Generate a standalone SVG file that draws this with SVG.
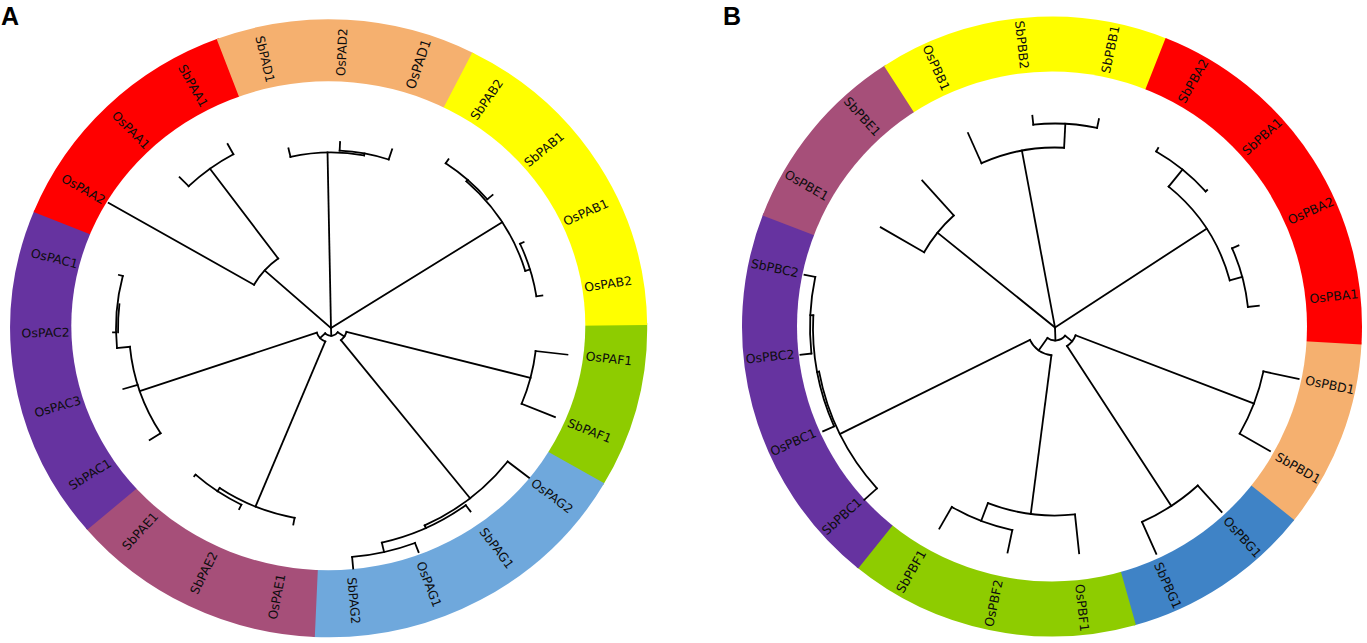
<svg xmlns="http://www.w3.org/2000/svg" width="1367" height="643" viewBox="0 0 1367 643">
<style>
.lab{font-family:"DejaVu Sans","Liberation Sans",sans-serif;font-size:12.5px;fill:#0d0d0d}
.pan{font-family:"Liberation Sans",Arial,sans-serif;font-size:25px;font-weight:bold;fill:#000}
.pie{fill:none}
.pA{stroke-width:318.5}
.pB{stroke-width:310}
.tree line,.tree circle{fill:none;stroke:#000;stroke-width:1.8;stroke-linecap:square}
</style>
<rect width="1367" height="643" fill="#fff"/>
<text class="pan" x="1" y="25">A</text>
<text class="pan" x="723" y="25">B</text>

<!-- ============ PANEL A ============ -->
<g id="panelA">
<g id="A-PAF">
 <circle class="pie pA" r="159.25" pathLength="360" stroke="#8ECC00" stroke-dasharray="31.5 360" transform="translate(328.7,328.3) scale(1,0.9702) rotate(-1)"/>
 <g transform="translate(328.5,327) scale(1,0.9702)">
  <text class="lab" dy=".35em" transform="rotate(6.63) translate(259)">OsPAF1</text>
  <text class="lab" dy=".35em" transform="rotate(22.28) translate(259)">SbPAF1</text>
 </g>
</g>
<g id="A-PAG">
 <circle class="pie pA" r="159.25" pathLength="360" stroke="#6FA8DC" stroke-dasharray="62.8 360" transform="translate(328.7,328.3) scale(1,0.9702) rotate(30.1)"/>
 <g transform="translate(328.5,327) scale(1,0.9702)">
  <text class="lab" dy=".35em" transform="rotate(37.93) translate(259)">OsPAG2</text>
  <text class="lab" dy=".35em" transform="rotate(53.58) translate(259)">SbPAG1</text>
  <text class="lab" dy=".35em" transform="rotate(69.24) translate(259)">OsPAG1</text>
  <text class="lab" dy=".35em" transform="rotate(84.89) translate(259)">SbPAG2</text>
 </g>
</g>
<g id="A-PAE">
 <circle class="pie pA" r="159.25" pathLength="360" stroke="#A64F79" stroke-dasharray="47.2 360" transform="translate(328.7,328.3) scale(1,0.9702) rotate(92.5)"/>
 <g transform="translate(328.5,327) scale(1,0.9702)">
  <text class="lab" dy=".35em" text-anchor="end" transform="rotate(100.54) translate(259) rotate(180)">OsPAE1</text>
  <text class="lab" dy=".35em" text-anchor="end" transform="rotate(116.19) translate(259) rotate(180)">SbPAE2</text>
  <text class="lab" dy=".35em" text-anchor="end" transform="rotate(131.84) translate(259) rotate(180)">SbPAE1</text>
 </g>
</g>
<g id="A-PAC">
 <circle class="pie pA" r="159.25" pathLength="360" stroke="#6633A0" stroke-dasharray="63.2 360" transform="translate(328.7,328.3) scale(1,0.9702) rotate(139.3)"/>
 <g transform="translate(328.5,327) scale(1,0.9702)">
  <text class="lab" dy=".35em" text-anchor="end" transform="rotate(147.5) translate(259) rotate(180)">SbPAC1</text>
  <text class="lab" dy=".35em" text-anchor="end" transform="rotate(163.15) translate(259) rotate(180)">OsPAC3</text>
  <text class="lab" dy=".35em" text-anchor="end" transform="rotate(178.8) translate(259) rotate(180)">OsPAC2</text>
  <text class="lab" dy=".35em" text-anchor="end" transform="rotate(194.45) translate(259) rotate(180)">OsPAC1</text>
 </g>
</g>
<g id="A-PAA">
 <circle class="pie pA" r="159.25" pathLength="360" stroke="#FF0000" stroke-dasharray="47.7 360" transform="translate(328.7,328.3) scale(1,0.9702) rotate(202.1)"/>
 <g transform="translate(328.5,327) scale(1,0.9702)">
  <text class="lab" dy=".35em" text-anchor="end" transform="rotate(210.1) translate(259) rotate(180)">OsPAA2</text>
  <text class="lab" dy=".35em" text-anchor="end" transform="rotate(225.76) translate(259) rotate(180)">OsPAA1</text>
  <text class="lab" dy=".35em" text-anchor="end" transform="rotate(241.41) translate(259) rotate(180)">SbPAA1</text>
 </g>
</g>
<g id="A-PAD">
 <circle class="pie pA" r="159.25" pathLength="360" stroke="#F5B06F" stroke-dasharray="47.8 360" transform="translate(328.7,328.3) scale(1,0.9702) rotate(249.4)"/>
 <g transform="translate(328.5,327) scale(1,0.9702)">
  <text class="lab" dy=".35em" text-anchor="end" transform="rotate(257.06) translate(259) rotate(180)">SbPAD1</text>
  <text class="lab" dy=".35em" transform="rotate(272.71) translate(259)">OsPAD2</text>
  <text class="lab" dy=".35em" style="font-size:13.5px" transform="rotate(288.36) translate(259)">OsPAD1</text>
 </g>
</g>
<g id="A-PAB">
 <circle class="pie pA" r="159.25" pathLength="360" stroke="#FFFF00" stroke-dasharray="62.6 360" transform="translate(328.7,328.3) scale(1,0.9702) rotate(296.8)"/>
 <g transform="translate(328.5,327) scale(1,0.9702)">
  <text class="lab" dy=".35em" transform="rotate(304.02) translate(259)">SbPAB2</text>
  <text class="lab" dy=".35em" transform="rotate(319.67) translate(259)">SbPAB1</text>
  <text class="lab" dy=".35em" transform="rotate(335.32) translate(259)">OsPAB1</text>
  <text class="lab" dy=".35em" transform="rotate(350.97) translate(259)">OsPAB2</text>
 </g>
</g>
<ellipse cx="328.3" cy="325.8" rx="257" ry="244.5" fill="#fff"/>
</g>

<g id="treeA" class="tree" transform="translate(331,328) scale(1,0.97)">
 <line x1="0" x2="8" transform="rotate(88)"/>
 <circle r="8" pathLength="360" stroke-dasharray="103.75 360" transform="rotate(33)"/>
 <line x1="8" x2="15" transform="rotate(136.75)"/>
 <circle r="15" pathLength="360" stroke-dasharray="48.9 360" transform="rotate(112.3)"/>
 <line x1="8" x2="16" transform="rotate(33)"/>
 <circle r="16" pathLength="360" stroke-dasharray="37.15 360" transform="rotate(14.45)"/>
 <!-- PAA -->
 <line x1="0" x2="89" transform="rotate(221.85)"/>
 <circle r="89" pathLength="360" stroke-dasharray="23.5 360" transform="rotate(210.1)"/>
 <line x1="89" x2="257" transform="rotate(210.1)"/>
 <line x1="89" x2="204" transform="rotate(233.6)"/>
 <circle r="204" pathLength="360" stroke-dasharray="15.65 360" transform="rotate(225.76)"/>
 <line x1="204" x2="217" transform="rotate(225.76)"/>
 <line x1="204" x2="216" transform="rotate(241.41)"/>
 <!-- PAD -->
 <line x1="0" x2="181" transform="rotate(268.9)"/>
 <circle r="181" pathLength="360" stroke-dasharray="23.48 360" transform="rotate(257.06)"/>
 <line x1="181" x2="190" transform="rotate(257.06)"/>
 <line x1="181" x2="183" transform="rotate(280.54)"/>
 <circle r="183" pathLength="360" stroke-dasharray="15.65 360" transform="rotate(272.71)"/>
 <line x1="183" x2="192" transform="rotate(272.71)"/>
 <line x1="183" x2="194" transform="rotate(288.36)"/>
 <!-- PAB -->
 <line x1="0" x2="203" transform="rotate(327.5)"/>
 <circle r="203" pathLength="360" stroke-dasharray="31.3 360" transform="rotate(311.85)"/>
 <line x1="203" x2="205" transform="rotate(311.85)"/>
 <circle r="205" pathLength="360" stroke-dasharray="15.65 360" transform="rotate(304.02)"/>
 <line x1="205" x2="210" transform="rotate(304.02)"/>
 <line x1="205" x2="212" transform="rotate(319.67)"/>
 <line x1="203" x2="208" transform="rotate(343.15)"/>
 <circle r="208" pathLength="360" stroke-dasharray="15.65 360" transform="rotate(335.32)"/>
 <line x1="208" x2="212" transform="rotate(335.32)"/>
 <line x1="208" x2="214" transform="rotate(350.97)"/>
 <!-- PAF -->
 <line x1="16" x2="206" transform="rotate(14.45)"/>
 <circle r="206" pathLength="360" stroke-dasharray="15.65 360" transform="rotate(6.63)"/>
 <line x1="206" x2="238" transform="rotate(6.63)"/>
 <line x1="206" x2="242" transform="rotate(22.28)"/>
 <!-- PAG -->
 <line x1="16" x2="224" transform="rotate(51.6)"/>
 <circle r="224" pathLength="360" stroke-dasharray="27.35 360" transform="rotate(37.93)"/>
 <line x1="224" x2="251" transform="rotate(37.93)"/>
 <line x1="224" x2="227" transform="rotate(65.28)"/>
 <circle r="227" pathLength="360" stroke-dasharray="23.48 360" transform="rotate(53.58)"/>
 <line x1="227" x2="235" transform="rotate(53.58)"/>
 <line x1="227" x2="237" transform="rotate(77.06)"/>
 <circle r="237" pathLength="360" stroke-dasharray="15.65 360" transform="rotate(69.24)"/>
 <line x1="237" x2="247" transform="rotate(69.24)"/>
 <line x1="237" x2="249" transform="rotate(84.89)"/>
 <!-- PAE -->
 <line x1="15" x2="199" transform="rotate(112.3)"/>
 <circle r="199" pathLength="360" stroke-dasharray="23.48 360" transform="rotate(100.54)"/>
 <line x1="199" x2="206" transform="rotate(100.54)"/>
 <line x1="199" x2="203" transform="rotate(124.02)"/>
 <circle r="203" pathLength="360" stroke-dasharray="15.65 360" transform="rotate(116.19)"/>
 <line x1="203" x2="208" transform="rotate(116.19)"/>
 <line x1="203" x2="205" transform="rotate(131.84)"/>
 <!-- PAC -->
 <line x1="15" x2="202" transform="rotate(161.2)"/>
 <circle r="202" pathLength="360" stroke-dasharray="27 360" transform="rotate(147.5)"/>
 <line x1="202" x2="215" transform="rotate(147.5)"/>
 <line x1="202" x2="217" transform="rotate(163.15)"/>
 <line x1="202" x2="215" transform="rotate(174.5)"/>
 <circle r="215" pathLength="360" stroke-dasharray="19.95 360" transform="rotate(174.5)"/>
 <circle r="213" pathLength="360" stroke-dasharray="7.8 360" transform="rotate(178.8)"/>
 <line x1="215" x2="218" transform="rotate(178.8)"/>
 <line x1="215" x2="219" transform="rotate(194.45)"/>
</g>

<!-- ============ PANEL B ============ -->
<g id="panelB">
<g id="B-PBD">
 <circle class="pie pB" r="155" pathLength="360" stroke="#F5B06F" stroke-dasharray="36.1 360" transform="translate(1052,326.5) rotate(2.9)"/>
 <g transform="translate(1052,326.5)">
  <text class="lab" dy=".35em" transform="rotate(11.9) translate(259)">OsPBD1</text>
  <text class="lab" dy=".35em" transform="rotate(29.9) translate(259)">SbPBD1</text>
 </g>
</g>
<g id="B-PBG">
 <circle class="pie pB" r="155" pathLength="360" stroke="#3F83C6" stroke-dasharray="36.1 360" transform="translate(1052,326.5) rotate(38.6)"/>
 <g transform="translate(1052,326.5)">
  <text class="lab" dy=".35em" transform="rotate(47.9) translate(259)">OsPBG1</text>
  <text class="lab" dy=".35em" transform="rotate(65.9) translate(259)">SbPBG1</text>
 </g>
</g>
<g id="B-PBF">
 <circle class="pie pB" r="155" pathLength="360" stroke="#8ECC00" stroke-dasharray="54.8 360" transform="translate(1052,326.5) rotate(74.3)"/>
 <g transform="translate(1052,326.5)">
  <text class="lab" dy=".35em" transform="rotate(83.9) translate(259)">OsPBF1</text>
  <text class="lab" dy=".35em" text-anchor="end" transform="rotate(101.9) translate(259) rotate(180)">OsPBF2</text>
  <text class="lab" dy=".35em" text-anchor="end" transform="rotate(119.9) translate(259) rotate(180)">SbPBF1</text>
 </g>
</g>
<g id="B-PBC">
 <circle class="pie pB" r="155" pathLength="360" stroke="#6633A0" stroke-dasharray="72.7 360" transform="translate(1052,326.5) rotate(128.7)"/>
 <g transform="translate(1052,326.5)">
  <text class="lab" dy=".35em" text-anchor="end" transform="rotate(137.9) translate(259) rotate(180)">SbPBC1</text>
  <text class="lab" dy=".35em" text-anchor="end" transform="rotate(155.9) translate(259) rotate(180)">OsPBC1</text>
  <text class="lab" dy=".35em" text-anchor="end" transform="rotate(173.9) translate(259) rotate(180)">OsPBC2</text>
  <text class="lab" dy=".35em" text-anchor="end" transform="rotate(191.9) translate(259) rotate(180)">SbPBC2</text>
 </g>
</g>
<g id="B-PBE">
 <circle class="pie pB" r="155" pathLength="360" stroke="#A64F79" stroke-dasharray="36.6 360" transform="translate(1052,326.5) rotate(201)"/>
 <g transform="translate(1052,326.5)">
  <text class="lab" dy=".35em" text-anchor="end" transform="rotate(209.9) translate(259) rotate(180)">OsPBE1</text>
  <text class="lab" dy=".35em" text-anchor="end" transform="rotate(227.9) translate(259) rotate(180)">SbPBE1</text>
 </g>
</g>
<g id="B-PBB">
 <circle class="pie pB" r="155" pathLength="360" stroke="#FFFF00" stroke-dasharray="54.7 360" transform="translate(1052,326.5) rotate(237.2)"/>
 <g transform="translate(1052,326.5)">
  <text class="lab" dy=".35em" text-anchor="end" transform="rotate(245.9) translate(259) rotate(180)">OsPBB1</text>
  <text class="lab" dy=".35em" text-anchor="end" transform="rotate(263.9) translate(259) rotate(180)">SbPBB2</text>
  <text class="lab" dy=".35em" transform="rotate(281.9) translate(259)">SbPBB1</text>
 </g>
</g>
<g id="B-PBA">
 <circle class="pie pB" r="155" pathLength="360" stroke="#FF0000" stroke-dasharray="71.8 360" transform="translate(1052,326.5) rotate(291.5)"/>
 <g transform="translate(1052,326.5)">
  <text class="lab" dy=".35em" transform="rotate(299.9) translate(259)">SbPBA2</text>
  <text class="lab" dy=".35em" transform="rotate(317.9) translate(259)">SbPBA1</text>
  <text class="lab" dy=".35em" transform="rotate(335.9) translate(259)">OsPBA2</text>
  <text class="lab" dy=".35em" transform="rotate(353.9) translate(259)">OsPBA1</text>
 </g>
</g>
<circle cx="1052" cy="326.5" r="255" fill="#fff"/>
</g>

<g id="treeB" class="tree" transform="translate(1055,327.5)">
 <line x1="0" x2="13" transform="rotate(88)"/>
 <circle r="13" pathLength="360" stroke-dasharray="86.6 360" transform="rotate(38.9)"/>
 <line x1="13" x2="28" transform="rotate(125.5)"/>
 <circle r="28" pathLength="360" stroke-dasharray="56.25 360" transform="rotate(97.4)"/>
 <line x1="13" x2="22" transform="rotate(38.9)"/>
 <circle r="22" pathLength="360" stroke-dasharray="36 360" transform="rotate(20.9)"/>
 <!-- PBB -->
 <line x1="0" x2="180" transform="rotate(259.4)"/>
 <circle r="180" pathLength="360" stroke-dasharray="27 360" transform="rotate(245.9)"/>
 <line x1="180" x2="213" transform="rotate(245.9)"/>
 <line x1="180" x2="204" transform="rotate(272.9)"/>
 <circle r="204" pathLength="360" stroke-dasharray="18 360" transform="rotate(263.9)"/>
 <line x1="204" x2="213" transform="rotate(263.9)"/>
 <line x1="204" x2="213" transform="rotate(281.9)"/>
 <!-- PBE -->
 <line x1="0" x2="151" transform="rotate(218.9)"/>
 <circle r="151" pathLength="360" stroke-dasharray="18 360" transform="rotate(209.9)"/>
 <line x1="151" x2="201" transform="rotate(209.9)"/>
 <line x1="151" x2="198" transform="rotate(227.9)"/>
 <!-- PBA -->
 <line x1="0" x2="181" transform="rotate(326.9)"/>
 <circle r="181" pathLength="360" stroke-dasharray="36 360" transform="rotate(308.9)"/>
 <line x1="181" x2="203" transform="rotate(308.9)"/>
 <circle r="203" pathLength="360" stroke-dasharray="18 360" transform="rotate(299.9)"/>
 <line x1="203" x2="207" transform="rotate(299.9)"/>
 <line x1="203" x2="205" transform="rotate(317.9)"/>
 <line x1="181" x2="194" transform="rotate(344.9)"/>
 <circle r="194" pathLength="360" stroke-dasharray="18 360" transform="rotate(335.9)"/>
 <line x1="194" x2="201" transform="rotate(335.9)"/>
 <line x1="194" x2="205" transform="rotate(353.9)"/>
 <!-- PBD -->
 <line x1="22" x2="213" transform="rotate(20.9)"/>
 <circle r="213" pathLength="360" stroke-dasharray="18 360" transform="rotate(11.9)"/>
 <line x1="213" x2="249" transform="rotate(11.9)"/>
 <line x1="213" x2="248" transform="rotate(29.9)"/>
 <!-- PBG -->
 <line x1="22" x2="213" transform="rotate(56.9)"/>
 <circle r="213" pathLength="360" stroke-dasharray="18 360" transform="rotate(47.9)"/>
 <line x1="213" x2="248.5" transform="rotate(47.9)"/>
 <line x1="213" x2="248" transform="rotate(65.9)"/>
 <!-- PBF -->
 <line x1="28" x2="188" transform="rotate(97.4)"/>
 <circle r="188" pathLength="360" stroke-dasharray="27 360" transform="rotate(83.9)"/>
 <line x1="188" x2="227" transform="rotate(83.9)"/>
 <line x1="188" x2="207" transform="rotate(110.9)"/>
 <circle r="207" pathLength="360" stroke-dasharray="18 360" transform="rotate(101.9)"/>
 <line x1="207" x2="230" transform="rotate(101.9)"/>
 <line x1="207" x2="232" transform="rotate(119.9)"/>
 <!-- PBC -->
 <line x1="28" x2="240" transform="rotate(153.65)"/>
 <circle r="240" pathLength="360" stroke-dasharray="31.5 360" transform="rotate(137.9)"/>
 <line x1="240" x2="257" transform="rotate(137.9)"/>
 <line x1="240" x2="242" transform="rotate(169.4)"/>
 <circle r="242" pathLength="360" stroke-dasharray="27 360" transform="rotate(155.9)"/>
 <line x1="242" x2="254" transform="rotate(155.9)"/>
 <line x1="242" x2="245" transform="rotate(182.9)"/>
 <circle r="245" pathLength="360" stroke-dasharray="18 360" transform="rotate(173.9)"/>
 <line x1="245" x2="256" transform="rotate(173.9)"/>
 <line x1="245" x2="256" transform="rotate(191.9)"/>
</g>
</svg>
